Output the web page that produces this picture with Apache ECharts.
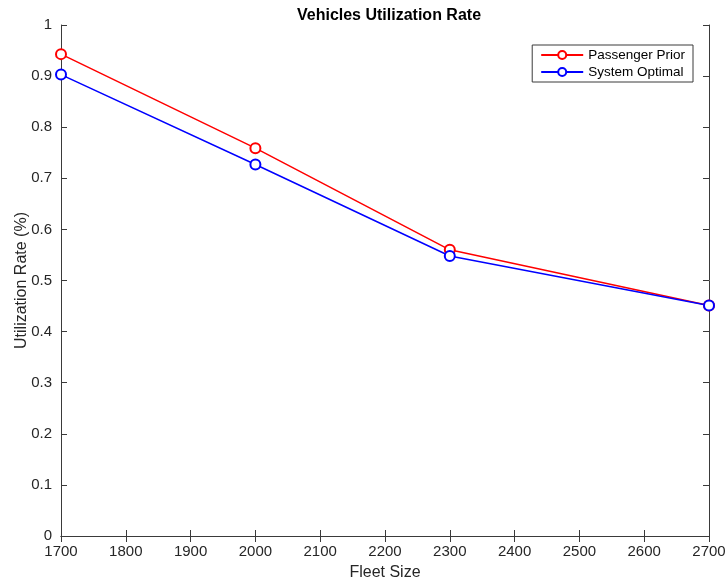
<!DOCTYPE html>
<html>
<head>
<meta charset="utf-8">
<script src="https://cdn.jsdelivr.net/npm/echarts@6/dist/echarts.min.js"></script>
<style>
  html, body { margin: 0; padding: 0; background: #fff; }
  #chart { width: 725px; height: 581px; }
</style>
</head>
<body>
<div id="chart"></div>
<script>
const fleetSize = [1700, 2000, 2300, 2700];
const passengerPrior = [0.943, 0.759, 0.560, 0.451];
const systemOptimal = [0.903, 0.727, 0.548, 0.451];

const font = "'Liberation Sans', Arial, sans-serif";
const axisColor = "#3a3a3a";
const textColor = "#262626";

const chart = echarts.init(document.getElementById("chart"));

function pairs(xs, ys) {
  return xs.map((x, i) => [x, ys[i]]);
}

// MATLAB-style box: ticks inside on all four sides
const boxAxis = {
  axisLine: { show: true, lineStyle: { color: axisColor, width: 1 } },
  axisTick: { show: true, inside: true, length: 6, lineStyle: { color: axisColor } },
  splitLine: { show: false },
};

chart.setOption({
  animation: false,
  backgroundColor: "#fff",
  title: {
    text: "Vehicles Utilization Rate",
    left: 384,
    textAlign: "center",
    top: 3,
    textStyle: { fontFamily: font, fontSize: 16, fontWeight: "bold", color: "#000" },
  },
  grid: {
    left: 61,
    right: 16,
    top: 25,
    bottom: 45,
    containLabel: false,
    outerBoundsMode: "none",
  },
  legend: {
    right: 32,
    top: 45,
    orient: "vertical",
    backgroundColor: "#fff",
    borderColor: axisColor,
    borderWidth: 1,
    borderRadius: 0,
    padding: [3, 8, 3, 8],
    itemGap: 3,
    itemWidth: 42,
    itemHeight: 10,
    textStyle: { fontFamily: font, fontSize: 13.5, color: "#000" },
    data: ["Passenger Prior", "System Optimal"],
  },
  xAxis: [
    Object.assign({}, boxAxis, {
      type: "value",
      min: 1700,
      max: 2700,
      interval: 100,
      name: "Fleet Size",
      nameLocation: "middle",
      nameGap: 29,
      nameMoveOverlap: false,
      nameTextStyle: { fontFamily: font, fontSize: 16, color: textColor },
      axisLabel: {
        fontFamily: font,
        fontSize: 15,
        color: textColor,
        margin: 8,
        formatter: (v) => String(v),
      },
    }),
    Object.assign({}, boxAxis, {
      type: "value",
      position: "top",
      min: 1700,
      max: 2700,
      interval: 100,
      axisLabel: { show: false },
    }),
  ],
  yAxis: [
    Object.assign({}, boxAxis, {
      type: "value",
      min: 0,
      max: 1,
      interval: 0.1,
      name: "Utilization Rate (%)",
      nameLocation: "middle",
      nameGap: 31,
      nameMoveOverlap: false,
      nameTextStyle: { fontFamily: font, fontSize: 16, color: textColor },
      axisLabel: { fontFamily: font, fontSize: 15, color: textColor, margin: 9 },
    }),
    Object.assign({}, boxAxis, {
      type: "value",
      position: "right",
      min: 0,
      max: 1,
      interval: 0.1,
      axisLabel: { show: false },
    }),
  ],
  series: [
    {
      name: "Passenger Prior",
      type: "line",
      data: pairs(fleetSize, passengerPrior),
      symbol: "emptyCircle",
      symbolSize: 10,
      color: "#ff0000",
      lineStyle: { width: 1.5, color: "#ff0000" },
      itemStyle: { color: "#ff0000", borderWidth: 1.5 },
    },
    {
      name: "System Optimal",
      type: "line",
      data: pairs(fleetSize, systemOptimal),
      symbol: "emptyCircle",
      symbolSize: 10,
      color: "#0000ff",
      lineStyle: { width: 1.5, color: "#0000ff" },
      itemStyle: { color: "#0000ff", borderWidth: 1.5 },
    },
  ],
});
</script>
</body>
</html>
